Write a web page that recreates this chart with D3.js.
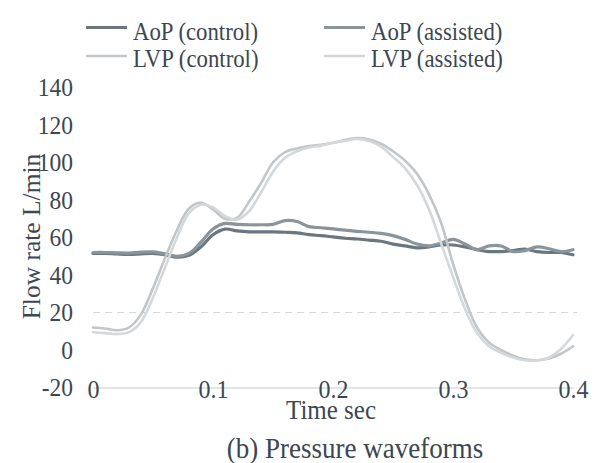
<!DOCTYPE html>
<html>
<head>
<meta charset="utf-8">
<script src="https://cdn.jsdelivr.net/npm/d3@7"></script>
<style>
  html, body { margin: 0; padding: 0; background: #fff; }
  svg { display: block; }
  svg text { font-family: "Liberation Serif", "Times New Roman", Times, Tinos, "DejaVu Serif", "Noto Serif", serif !important; fill: #3b4752; }
</style>
</head>
<body>
<svg id="chart" width="598" height="463"></svg>
<script>
// Time samples (s)
const timeSec = [0, 0.01, 0.02, 0.03, 0.04, 0.05, 0.06, 0.07, 0.08, 0.09,
  0.10, 0.11, 0.12, 0.13, 0.14, 0.15, 0.16, 0.17, 0.18, 0.19,
  0.20, 0.21, 0.22, 0.23, 0.24, 0.25, 0.26, 0.27, 0.28, 0.29,
  0.30, 0.31, 0.32, 0.33, 0.34, 0.35, 0.36, 0.37, 0.38, 0.39, 0.40];

// Aortic pressure waveforms
const aopControl = [51.5, 51.5, 51.2, 51, 51.3, 51.5, 50.8, 49.5, 50.5, 55,
  61.5, 64.5, 63.5, 63, 63, 63, 62.8, 62.5, 61.5, 61,
  60.3, 59.6, 59.2, 58.6, 58, 56.5, 55.5, 54.5, 55, 56,
  56, 55, 53.5, 52.5, 52.5, 53, 53.8, 52.5, 52, 52, 50.8];
const aopAssisted = [52, 52, 51.8, 51.7, 52.2, 52.3, 51.3, 50, 51.5, 57.5,
  64.5, 67.5, 67, 66.8, 66.8, 67, 69, 68.5, 65.8, 65.2,
  64.6, 63.9, 63.3, 62.8, 62.2, 61, 59, 56.5, 55.5, 57,
  59, 56.5, 53.5, 55.5, 55.5, 52.5, 53, 55, 54, 52.5, 53.5];

// Left-ventricular pressure waveforms
const lvpControl = [12, 11.5, 10.5, 12, 19, 33, 49, 64, 75.5, 78.5,
  75, 70, 70.5, 79, 89, 100, 105.5, 107.5, 108.8, 109.5,
  110.5, 112, 113, 112.3, 110, 106, 101, 94, 83, 68,
  46, 27, 12, 4, 0, -3, -5, -5.5, -4.5, -2, 2];
const lvpAssisted = [9.5, 9, 8.5, 9.5, 15, 28, 44, 60, 73, 77.5,
  76, 71.5, 69.5, 74, 84, 95, 102.5, 106, 108, 109,
  110.5, 111.5, 112.5, 111.5, 108.5, 103, 97, 88, 75, 57,
  39, 22, 9, 2, -1.5, -4, -5.5, -5.5, -4, 0.5, 8];

const seriesNames = ["AoP (control)", "AoP (assisted)", "LVP (control)", "LVP (assisted)"];
const xTicks = [0, 0.1, 0.2, 0.3, 0.4];
const xTickLabels = ["0", "0.1", "0.2", "0.3", "0.4"];
const yTicks = [-20, 0, 20, 40, 60, 80, 100, 120, 140];
const yTickLabels = ["-20", "0", "20", "40", "60", "80", "100", "120", "140"];
const xTitle = "Time sec";
const yTitle = "Flow rate L/min";
const caption = "(b) Pressure waveforms";

const colors = {
  "AoP (control)": "#6a7680",
  "AoP (assisted)": "#8a949c",
  "LVP (control)": "#c2c6c9",
  "LVP (assisted)": "#d5d8da"
};
const widths = {
  "AoP (control)": 3.2,
  "AoP (assisted)": 3.2,
  "LVP (control)": 2.6,
  "LVP (assisted)": 2.6
};

const svg = d3.select("#chart");

const x = d3.scaleLinear().domain([0, 0.4]).range([93, 573]);
const y = d3.scaleLinear().domain([-20, 140]).range([387.5, 87.5]);

// Dashed reference at 20
svg.append("line")
  .attr("x1", x(0)).attr("x2", x(0.4) + 4)
  .attr("y1", y(20)).attr("y2", y(20))
  .attr("stroke", "#d3d7da").attr("stroke-width", 1.2)
  .attr("stroke-dasharray", "7,5");

// X axis (runs along -20, labels sit on the line)
const xAxis = svg.append("g")
  .attr("transform", `translate(0,${y(-20)})`)
  .call(d3.axisBottom(x).tickValues(xTicks)
    .tickFormat((d, i) => xTickLabels[i])
    .tickSize(0).tickSizeOuter(0).tickPadding(0));
xAxis.attr("font-family", null);
xAxis.select(".domain").attr("stroke", "#c6cbce").attr("stroke-width", 1.2);
xAxis.selectAll("text")
  .attr("y", 0).attr("dy", "0.44em")
  .attr("transform", "scale(1,1.04)")
  .style("font-size", "24px").style("fill", "#3b4752");

// Y axis labels
const yAxis = svg.append("g")
  .attr("transform", "translate(73,0)")
  .call(d3.axisLeft(y).tickValues(yTicks)
    .tickFormat((d, i) => yTickLabels[i])
    .tickSize(0).tickPadding(0));
yAxis.attr("font-family", null);
yAxis.select(".domain").remove();
yAxis.selectAll("text")
  .attr("x", 0).attr("dy", "0.34em")
  .attr("transform", "scale(1,1.05)")
  .style("font-size", "23.5px").style("fill", "#3b4752");

// Waveforms
const seriesData = [
  { name: "AoP (control)", values: aopControl },
  { name: "AoP (assisted)", values: aopAssisted },
  { name: "LVP (control)", values: lvpControl },
  { name: "LVP (assisted)", values: lvpAssisted }
];

const line = d3.line()
  .x((d, i) => x(timeSec[i]))
  .y(d => y(d))
  .curve(d3.curveCatmullRom.alpha(0.5));

svg.append("g").selectAll("path")
  .data(seriesData)
  .join("path")
  .attr("d", d => line(d.values))
  .attr("fill", "none")
  .attr("stroke", d => colors[d.name])
  .attr("stroke-width", d => widths[d.name])
  .attr("stroke-linejoin", "round")
  .attr("stroke-linecap", "round");

// Axis titles and caption
svg.append("text")
  .attr("transform", "translate(331,419) scale(1,1.06)")
  .attr("text-anchor", "middle")
  .style("font-size", "25px")
  .text(xTitle);

svg.append("text")
  .attr("transform", "translate(40,236.5) rotate(-90)")
  .attr("text-anchor", "middle")
  .style("font-size", "25.5px")
  .text(yTitle);

svg.append("text")
  .attr("transform", "translate(355,458) scale(1,1.08)")
  .attr("text-anchor", "middle")
  .style("font-size", "27px")
  .text(caption);

// Legend (two columns, two rows)
const legendPos = [
  { lx: 86, ty: 39.5, ly: 27.5 },
  { lx: 324, ty: 39.5, ly: 27.5 },
  { lx: 86, ty: 66.5, ly: 56 },
  { lx: 324, ty: 66.5, ly: 56 }
];
const legend = svg.append("g").selectAll("g")
  .data(seriesNames)
  .join("g");
legend.append("line")
  .attr("x1", (d, i) => legendPos[i].lx)
  .attr("x2", (d, i) => legendPos[i].lx + 41)
  .attr("y1", (d, i) => legendPos[i].ly)
  .attr("y2", (d, i) => legendPos[i].ly)
  .attr("stroke", d => colors[d])
  .attr("stroke-width", d => widths[d]);
legend.append("text")
  .attr("transform", (d, i) => `translate(${legendPos[i].lx + 47},${legendPos[i].ty}) scale(1,1.08)`)
  .style("font-size", "22.8px")
  .text(d => d);
</script>
</body>
</html>
